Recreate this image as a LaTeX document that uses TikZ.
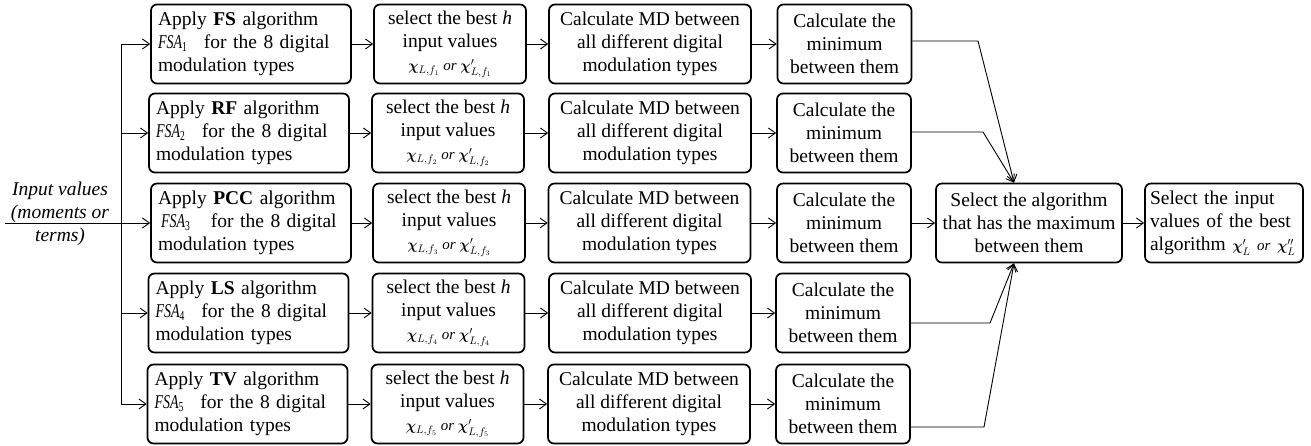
\documentclass[tikz,border=0pt]{standalone}
\usepackage{fontspec}
\setmainfont{Liberation Serif}
\usepackage{amsmath}
\usetikzlibrary{arrows.meta}

% condensed italic label of a feature-selection algorithm
\newcommand{\fsa}[1]{{\itshape\scalebox{0.72}[1]{FSA}}\textsubscript{\scalebox{0.7}[1]{#1}}}
% selected input values of one algorithm
\newcommand{\chisel}[1]{{\fontsize{15}{15}\selectfont$\boldsymbol{\chi}_{L,f_{#1}}$ \textit{or} $\boldsymbol{\chi}'_{L,f_{#1}}$}}

\begin{document}
\begin{tikzpicture}[x=1pt,y=-1pt,
  box/.style={draw, line width=1.7pt, rounded corners=6pt, minimum height=79pt,
              inner sep=0pt, font=\fontsize{19.5}{23}\selectfont},
  applybox/.style={box, minimum width=200pt, text width=186pt, align=left},
  selbox/.style={box, minimum width=152pt, align=center},
  mdbox/.style={box, minimum width=202pt, align=center},
  minbox/.style={box, minimum width=134pt, align=center},
  algbox/.style={box, minimum width=186pt, align=center},
  finalbox/.style={box, minimum width=158pt, text width=148pt, align=left},
  inlabel/.style={font=\fontsize{19.5}{23}\selectfont\itshape, align=center, inner sep=0pt},
  arr/.style={line width=0.9pt, -{Straight Barb[length=7pt,width=10pt]}},
  conn/.style={line width=0.9pt}]
\useasboundingbox (0,0) rectangle (1311,446);

% first column: the five feature-selection algorithms
\node[applybox] (a1) at (251,44)  {Apply \textbf{FS} algorithm\\ \fsa{1}\hspace{10pt} for the 8 digital\\ modulation types};
\node[applybox] (a2) at (249,133) {Apply \textbf{RF} algorithm\\ \fsa{2}\hspace{10pt} for the 8 digital\\ modulation types};
\node[applybox] (a3) at (251,223) {Apply \textbf{PCC} algorithm\\ \hspace{3pt}\fsa{3}\hspace{14pt} for the 8 digital\\ modulation types};
\node[applybox] (a4) at (248.5,313) {Apply \textbf{LS} algorithm\\ \fsa{4}\hspace{10pt} for the 8 digital\\ modulation types};
\node[applybox] (a5) at (247.5,404) {Apply \textbf{TV} algorithm\\ \fsa{5}\hspace{10pt} for the 8 digital\\ modulation types};

% second column: selection of the best h inputs
\node[selbox] (s1) at (450,44)    {select the best \textit{h}\\ input values\\ \chisel{1}};
\node[selbox] (s2) at (448,133)   {select the best \textit{h}\\ input values\\ \chisel{2}};
\node[selbox] (s3) at (449,223)   {select the best \textit{h}\\ input values\\ \chisel{3}};
\node[selbox] (s4) at (448.5,313) {select the best \textit{h}\\ input values\\ \chisel{4}};
\node[selbox] (s5) at (447.5,404) {select the best \textit{h}\\ input values\\ \chisel{5}};

% third column: Mahalanobis distances
\foreach \i/\x/\y in {1/650/44, 2/650/133, 3/649.5/223, 4/650/313, 5/649/404}
  \node[mdbox] (d\i) at (\x,\y) {Calculate MD between\\ all different digital\\ modulation types};

% fourth column: minimum distance
\foreach \i/\x/\y in {1/844.5/44, 2/844/133, 3/844/223, 4/843/313, 5/843/404}
  \node[minbox] (m\i) at (\x,\y) {Calculate the\\ minimum\\ between them};

% final decision
\node[algbox] (alg) at (1029,223) {Select the algorithm\\ that has the maximum\\ between them};
\node[finalbox] (fin) at (1224,223) {Select the input\\ values of the best\\ \mbox{algorithm {\fontsize{15}{15}\selectfont$\boldsymbol{\chi}'_{L}$ \textit{or} $\boldsymbol{\chi}''_{L}$}}};

% input label and distribution trunk
\node[inlabel] (in) at (60,214) {Input values\\ (moments or\\ terms)};
\coordinate (start) at (5,223);
\coordinate (tr) at (121,0);
\draw[conn] (tr |- a1.west) -- (tr |- a5.west);
\draw[arr] (start) -- (a3.west);
\foreach \i in {1,2,4,5}
  \draw[arr] (tr |- a\i.west) -- (a\i.west);

% row-wise chain
\foreach \i in {1,...,5}{
  \draw[arr] (a\i.east) -- (a\i.east -| s\i.west);
  \draw[arr] (s\i.east) -- (s\i.east -| d\i.west);
  \draw[arr] (d\i.east) -- (d\i.east -| m\i.west);
}

% gathering the minima
\coordinate (k1) at (978,41);
\coordinate (k2) at (983,132);
\coordinate (k4) at (990,323);
\coordinate (k5) at (984,427);
\draw[arr] ([yshift=3pt]m1.east) -- (k1) -- ([xshift=-15pt]alg.north);
\draw[arr] ([yshift=1pt]m2.east) -- (k2) -- ([xshift=-15pt]alg.north);
\draw[arr] (m3.east) -- (alg.west);
\draw[arr] ([yshift=-10pt]m4.east) -- (k4) -- ([xshift=-15pt]alg.south);
\draw[arr] ([yshift=-23pt]m5.east) -- (k5) -- ([xshift=-15pt]alg.south);
\draw[arr] (alg.east) -- (fin.west);
\end{tikzpicture}
\end{document}
